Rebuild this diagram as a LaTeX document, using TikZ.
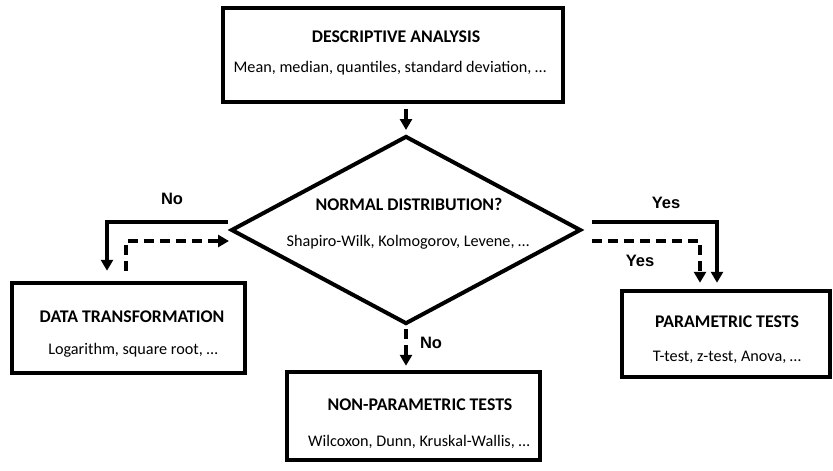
\documentclass[tikz,border=0pt]{standalone}
\usepackage{fontspec}
\setmainfont{Carlito}
\newfontfamily\labfont{Liberation Sans}
\usetikzlibrary{arrows.meta,shapes.geometric}
\tikzset{
  boxnode/.style={draw, line width=4.5pt, miter limit=10, inner sep=0pt},
  ttl/.style={font=\fontsize{17.8}{20}\selectfont\bfseries, inner sep=0pt},
  sub/.style={font=\fontsize{16.2}{19}\selectfont, inner sep=0pt},
  lab/.style={font=\labfont\fontsize{16.5}{19}\selectfont\bfseries, inner sep=0pt},
  arr/.style={line width=4pt, -{Triangle[length=11pt,width=12pt]}},
  darr/.style={arr, dash pattern=on 10pt off 6pt},
}
\begin{document}
\begin{tikzpicture}[x=1pt,y=-1pt]
\useasboundingbox (0,0) rectangle (833,471);
% boxes
\node[boxnode, minimum width=340pt, minimum height=94pt] (desc) at (393,55) {};
\node[ttl] (descT) at (396,37) {DESCRIPTIVE ANALYSIS};
\node[sub] (descS) at (390,68) {Mean, median, quantiles, standard deviation, …};

\node[draw, diamond, line width=4pt, minimum width=350pt, minimum height=188pt, inner sep=0pt] (dec) at (406,230) {};
\node[ttl] (decT) at (409,204) {NORMAL DISTRIBUTION?};
\node[sub] (decS) at (408,242) {Shapiro-Wilk, Kolmogorov, Levene, …};

\node[boxnode, minimum width=233pt, minimum height=90pt] (trans) at (128.5,328) {};
\node[ttl] (transT) at (132,317) {DATA TRANSFORMATION};
\node[sub] (transS) at (133,350) {Logarithm, square root, …};

\node[boxnode, minimum width=253pt, minimum height=88pt] (nonpar) at (413.5,416) {};
\node[ttl] (nonparT) at (420,405) {NON-PARAMETRIC TESTS};
\node[sub] (nonparS) at (419,442) {Wilcoxon, Dunn, Kruskal-Wallis, …};

\node[boxnode, minimum width=208pt, minimum height=86pt] (par) at (726,334) {};
\node[ttl] (parT) at (727,322) {PARAMETRIC TESTS};
\node[sub] (parS) at (727,357) {T-test, z-test, Anova, …};

% labels
\node[lab] (noL) at (172,199) {No};
\node[lab] (yesT) at (666,203) {Yes};
\node[lab] (yesB) at (640,261) {Yes};
\node[lab] (noB) at (431,343) {No};

% connector ends
\coordinate (ls) at (228,222);
\coordinate (ld) at (229,241);
\coordinate (rs) at (592,222);
\coordinate (rd) at (592,241);

% connectors
\draw[arr] ([yshift=-5pt]desc.south -| dec.north) -- ([yshift=4pt]dec.north);
\draw[arr] (ls) -| ([xshift=-21.5pt,yshift=10pt]trans.north);
\draw[darr] ([xshift=-2.5pt,yshift=10pt]trans.north) |- (ld);
\draw[arr] (rs) -| ([xshift=-9pt,yshift=6pt]par.north);
\draw[darr] (rd) -| ([xshift=-26pt,yshift=6pt]par.north);
\draw[darr] ([yshift=-3pt]dec.south) -- ([yshift=4pt]nonpar.north -| dec.south);
\end{tikzpicture}
\end{document}
